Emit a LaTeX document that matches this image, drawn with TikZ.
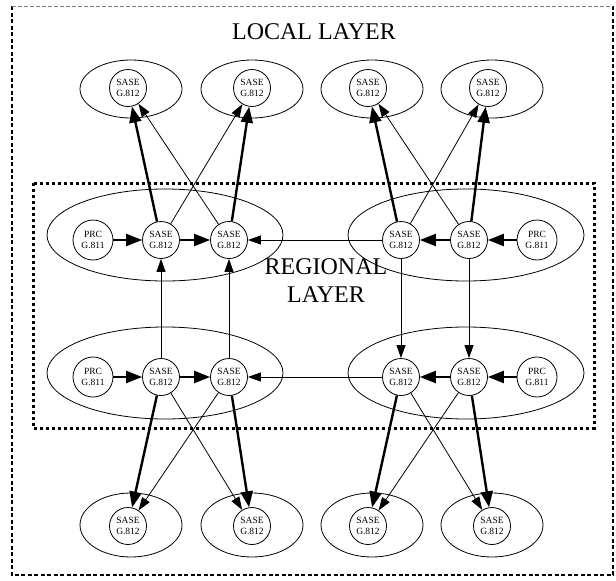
\documentclass[tikz,border=0pt]{standalone}
\usepackage{fontspec}
\setmainfont{Liberation Serif}
\usetikzlibrary{arrows.meta,shapes.geometric}

\begin{document}
\begin{tikzpicture}[x=1pt, y=-1pt, node distance=68pt,
    main node/.style={circle,draw,line width=0.8pt,minimum size=37pt,inner sep=0pt,
        align=center,font=\fontsize{9.5}{11.5}\selectfont},
    prc node/.style={main node,minimum size=40pt},
    region/.style={ellipse,draw,line width=0.8pt,minimum width=236pt,minimum height=92pt},
    site/.style={ellipse,draw,line width=0.8pt,minimum width=102pt},
    layer/.style={font=\fontsize{24}{28}\selectfont,inner sep=0pt},
    strong/.style={line width=2.4pt,-{Triangle[length=16pt,width=12pt]}},
    weak/.style={line width=0.8pt,-{Triangle[length=13pt,width=9pt]}}]

\useasboundingbox (0,0) rectangle (616,581);

\draw[line width=1.6pt, dash pattern=on 4pt off 2.5pt] (12,6) -- (12,575) -- (613,575) -- (613,6);
\draw[gray, line width=0.5pt, dash pattern=on 4pt off 2pt] (12,6) -- (613,6);
\draw[line width=3pt, dash pattern=on 3pt off 3pt] (33,183) rectangle (594,428);

\node[layer, anchor=base] (local) at (314,39) {LOCAL LAYER};
\node[layer, align=center, anchor=base] (regional) at (326,302) {REGIONAL\\LAYER};

\node[region] (R1) at (165,235) {};
\node[region] (R2) at (466,235) {};
\node[region] (R3) at (165,373) {};
\node[region] (R4) at (466,373) {};

\node[site, minimum height=58pt] (L1) at (131,89) {};
\node[site, minimum height=58pt] (L2) at (252,89) {};
\node[site, minimum height=58pt] (L3) at (372,89) {};
\node[site, minimum height=58pt] (L4) at (492,89) {};
\node[site, minimum height=64pt] (L5) at (131,525) {};
\node[site, minimum height=64pt] (L6) at (252,525) {};
\node[site, minimum height=64pt] (L7) at (372,525) {};
\node[site, minimum height=64pt] (L8) at (492,525) {};

\node[prc node] (p1) at (93,240) {PRC\\G.811};
\node[main node] (a1) [right of=p1] {SASE\\G.812};
\node[main node] (b1) [right of=a1] {SASE\\G.812};

\node[prc node] (p2) at (537,240) {PRC\\G.811};
\node[main node] (b2) [left of=p2] {SASE\\G.812};
\node[main node] (a2) [left of=b2] {SASE\\G.812};

\node[prc node] (p3) at (93,377) {PRC\\G.811};
\node[main node] (a3) [right of=p3] {SASE\\G.812};
\node[main node] (b3) [right of=a3] {SASE\\G.812};

\node[prc node] (p4) at (537,377) {PRC\\G.811};
\node[main node] (b4) [left of=p4] {SASE\\G.812};
\node[main node] (a4) [left of=b4] {SASE\\G.812};

\node[main node] (t1) at (128,88) {SASE\\G.812};
\node[main node] (t2) at (252,88) {SASE\\G.812};
\node[main node] (t3) at (368,88) {SASE\\G.812};
\node[main node] (t4) at (488,88) {SASE\\G.812};
\node[main node] (u1) at (128,526) {SASE\\G.812};
\node[main node] (u2) at (252,526) {SASE\\G.812};
\node[main node] (u3) at (368,526) {SASE\\G.812};
\node[main node] (u4) at (492,526) {SASE\\G.812};

\path
(p1) edge [strong] (a1)
(a1) edge [strong] (b1)
(a1) edge [strong] (t1)
(a1) edge [weak] (t2)
(b1) edge [weak] (t1)
(b1) edge [strong] (t2)

(p2) edge [strong] (b2)
(b2) edge [strong] (a2)
(a2) edge [strong] (t3)
(a2) edge [weak] (t4)
(b2) edge [weak] (t3)
(b2) edge [strong] (t4)

(p3) edge [strong] (a3)
(a3) edge [strong] (b3)
(a3) edge [strong] (u1)
(a3) edge [weak] (u2)
(b3) edge [weak] (u1)
(b3) edge [strong] (u2)

(p4) edge [strong] (b4)
(b4) edge [strong] (a4)
(a4) edge [strong] (u3)
(a4) edge [weak] (u4)
(b4) edge [weak] (u3)
(b4) edge [strong] (u4)

(a2) edge [weak] (b1)
(a4) edge [weak] (b3)
(a3) edge [weak] (a1)
(b3) edge [weak] (b1)
(a2) edge [weak] (a4)
(b2) edge [weak] (b4);

\end{tikzpicture}
\end{document}
